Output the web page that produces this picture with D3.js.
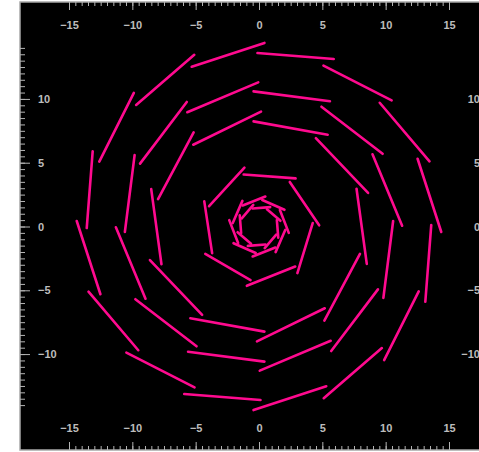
<!DOCTYPE html>
<html>
<head>
<meta charset="utf-8">
<script src="https://cdn.jsdelivr.net/npm/d3@7"></script>
<style>
  body { margin: 0; background: #fff; }
  svg { display: block; }
  .tick text { font-family: "Liberation Sans", Arial, sans-serif; font-size: 11px; font-weight: bold; fill: #bdbdbd; }
  .tick line { stroke: #b4b4b4; }
</style>
</head>
<body>
<svg id="chart" width="479" height="452"></svg>
<script>
// tick labels
var xMajor = [-15, -10, -5, 0, 5, 10, 15];
var yMajor = [-10, -5, 0, 5, 10];

// segments, [x1, y1, x2, y2] in data units
var ringOuter = [
  [0.43, 14.39, -5.31, 12.52], [-5.11, 13.46, -9.70, 9.53], [-9.88, 10.47, -12.61, 5.09],
  [-13.13, 5.90, -13.60, -0.12], [-14.39, 0.43, -12.52, -5.31], [-13.46, -5.11, -9.53, -9.70],
  [-10.47, -9.88, -5.09, -12.61], [-5.90, -13.13, 0.12, -13.60], [-0.43, -14.39, 5.31, -12.52],
  [5.11, -13.46, 9.70, -9.53], [9.88, -10.47, 12.61, -5.09], [13.13, -5.90, 13.60, 0.12],
  [14.39, -0.43, 12.52, 5.31], [13.46, 5.11, 9.53, 9.70], [10.47, 9.88, 5.09, 12.61],
  [5.90, 13.13, -0.12, 13.60]
];
var ringSecond = [
  [11.30, 0.06, 8.96, 5.66], [9.76, 5.70, 4.93, 9.39], [5.60, 9.82, -0.43, 10.59],
  [-0.06, 11.30, -5.66, 8.96], [-5.70, 9.76, -9.39, 4.93], [-9.82, 5.60, -10.59, -0.43],
  [-11.30, -0.06, -8.96, -5.66], [-9.76, -5.70, -4.93, -9.39], [-5.60, -9.82, 0.43, -10.59],
  [0.06, -11.30, 5.66, -8.96], [5.70, -9.76, 9.39, -4.93], [9.82, -5.60, 10.59, 0.43]
];
var ringThird = [
  [0.16, 9.00, -5.19, 6.41], [-5.16, 7.37, -7.97, 2.14], [-8.51, 2.93, -7.70, -2.96],
  [-8.61, -2.63, -4.49, -6.92], [-5.42, -7.19, 0.43, -8.24], [-0.16, -9.00, 5.19, -6.41],
  [5.16, -7.37, 7.97, -2.14], [8.51, -2.93, 7.70, 2.96], [8.61, 2.63, 4.49, 6.92],
  [5.42, 7.19, -0.43, 8.24]
];
var ringFourth = [
  [2.89, 3.77, -1.21, 4.07], [-1.15, 4.61, -3.94, 1.59], [-4.32, 1.97, -3.70, -2.09],
  [-4.24, -2.15, -0.67, -4.20], [-0.96, -4.65, 2.86, -3.14], [3.03, -3.65, 4.24, 0.27],
  [4.75, 0.09, 2.43, 3.49]
];
var ringFifth = [
  [0.50, 2.35, -1.29, 1.65], [-1.31, 2.01, -2.08, 0.26], [-2.35, 0.50, -1.65, -1.29],
  [-2.01, -1.31, -0.26, -2.08], [-0.50, -2.35, 1.29, -1.65], [1.31, -2.01, 2.08, -0.26],
  [2.35, -0.50, 1.65, 1.29], [2.01, 1.31, 0.26, 2.08]
];
var ringInner = [
  [0.88, 1.52, -0.51, 1.41], [-0.45, 1.69, -1.36, 0.63], [-1.52, 0.88, -1.41, -0.51],
  [-1.69, -0.45, -0.63, -1.36], [-0.88, -1.52, 0.51, -1.41], [0.45, -1.69, 1.36, -0.63],
  [1.52, -0.88, 1.41, 0.51], [1.69, 0.45, 0.63, 1.36]
];

var segments = [].concat(ringOuter, ringSecond, ringThird, ringFourth, ringFifth, ringInner);

var svg = d3.select("#chart");

// frame is wider than the window, right side gets clipped like the original
var frame = { left: 20, top: 2, right: 498, bottom: 450 };

var x = d3.scaleLinear().domain([-15, 15]).range([69, 449]);
var y = d3.scaleLinear().domain([-14, 14]).range([405.1, 47.9]);

svg.append("rect")
  .attr("x", frame.left)
  .attr("y", frame.top)
  .attr("width", frame.right - frame.left)
  .attr("height", frame.bottom - frame.top)
  .style("fill", "#000")
  .style("stroke", "#a8a8a8")
  .style("stroke-width", 1.5);

var xMinor = d3.range(-15, 15.001, 0.5);
var yMinor = d3.range(-14, 14.001, 0.5);

function addAxis(axisFn, tx, ty, scale, majors, minors, majorLen, minorLen, pad) {
  var gMinor = svg.append("g").attr("transform", "translate(" + tx + "," + ty + ")")
    .call(axisFn(scale).tickValues(minors).tickSize(minorLen).tickSizeOuter(0).tickFormat(""));
  gMinor.select(".domain").remove();
  var gMajor = svg.append("g").attr("transform", "translate(" + tx + "," + ty + ")")
    .call(axisFn(scale).tickValues(majors).tickSize(majorLen).tickSizeOuter(0).tickPadding(pad).tickFormat(d3.format("d")));
  gMajor.select(".domain").remove();
  return gMajor;
}

addAxis(d3.axisBottom, 0, frame.top, x, xMajor, xMinor, 8, 4, 11);   // top
addAxis(d3.axisTop, 0, frame.bottom, x, xMajor, xMinor, 8, 4, 10);   // bottom
addAxis(d3.axisRight, frame.left, 0, y, yMajor, yMinor, 10, 5, 8);   // left
addAxis(d3.axisLeft, frame.right, 0, y, yMajor, yMinor, 10, 5, 8);   // right

svg.append("g")
  .selectAll("line")
  .data(segments)
  .enter()
  .append("line")
  .attr("x1", function(d) { return x(d[0]); })
  .attr("y1", function(d) { return y(d[1]); })
  .attr("x2", function(d) { return x(d[2]); })
  .attr("y2", function(d) { return y(d[3]); })
  .style("stroke", "#ff0a8f")
  .style("stroke-width", 2.6)
  .style("stroke-linecap", "round");
</script>
</body>
</html>
